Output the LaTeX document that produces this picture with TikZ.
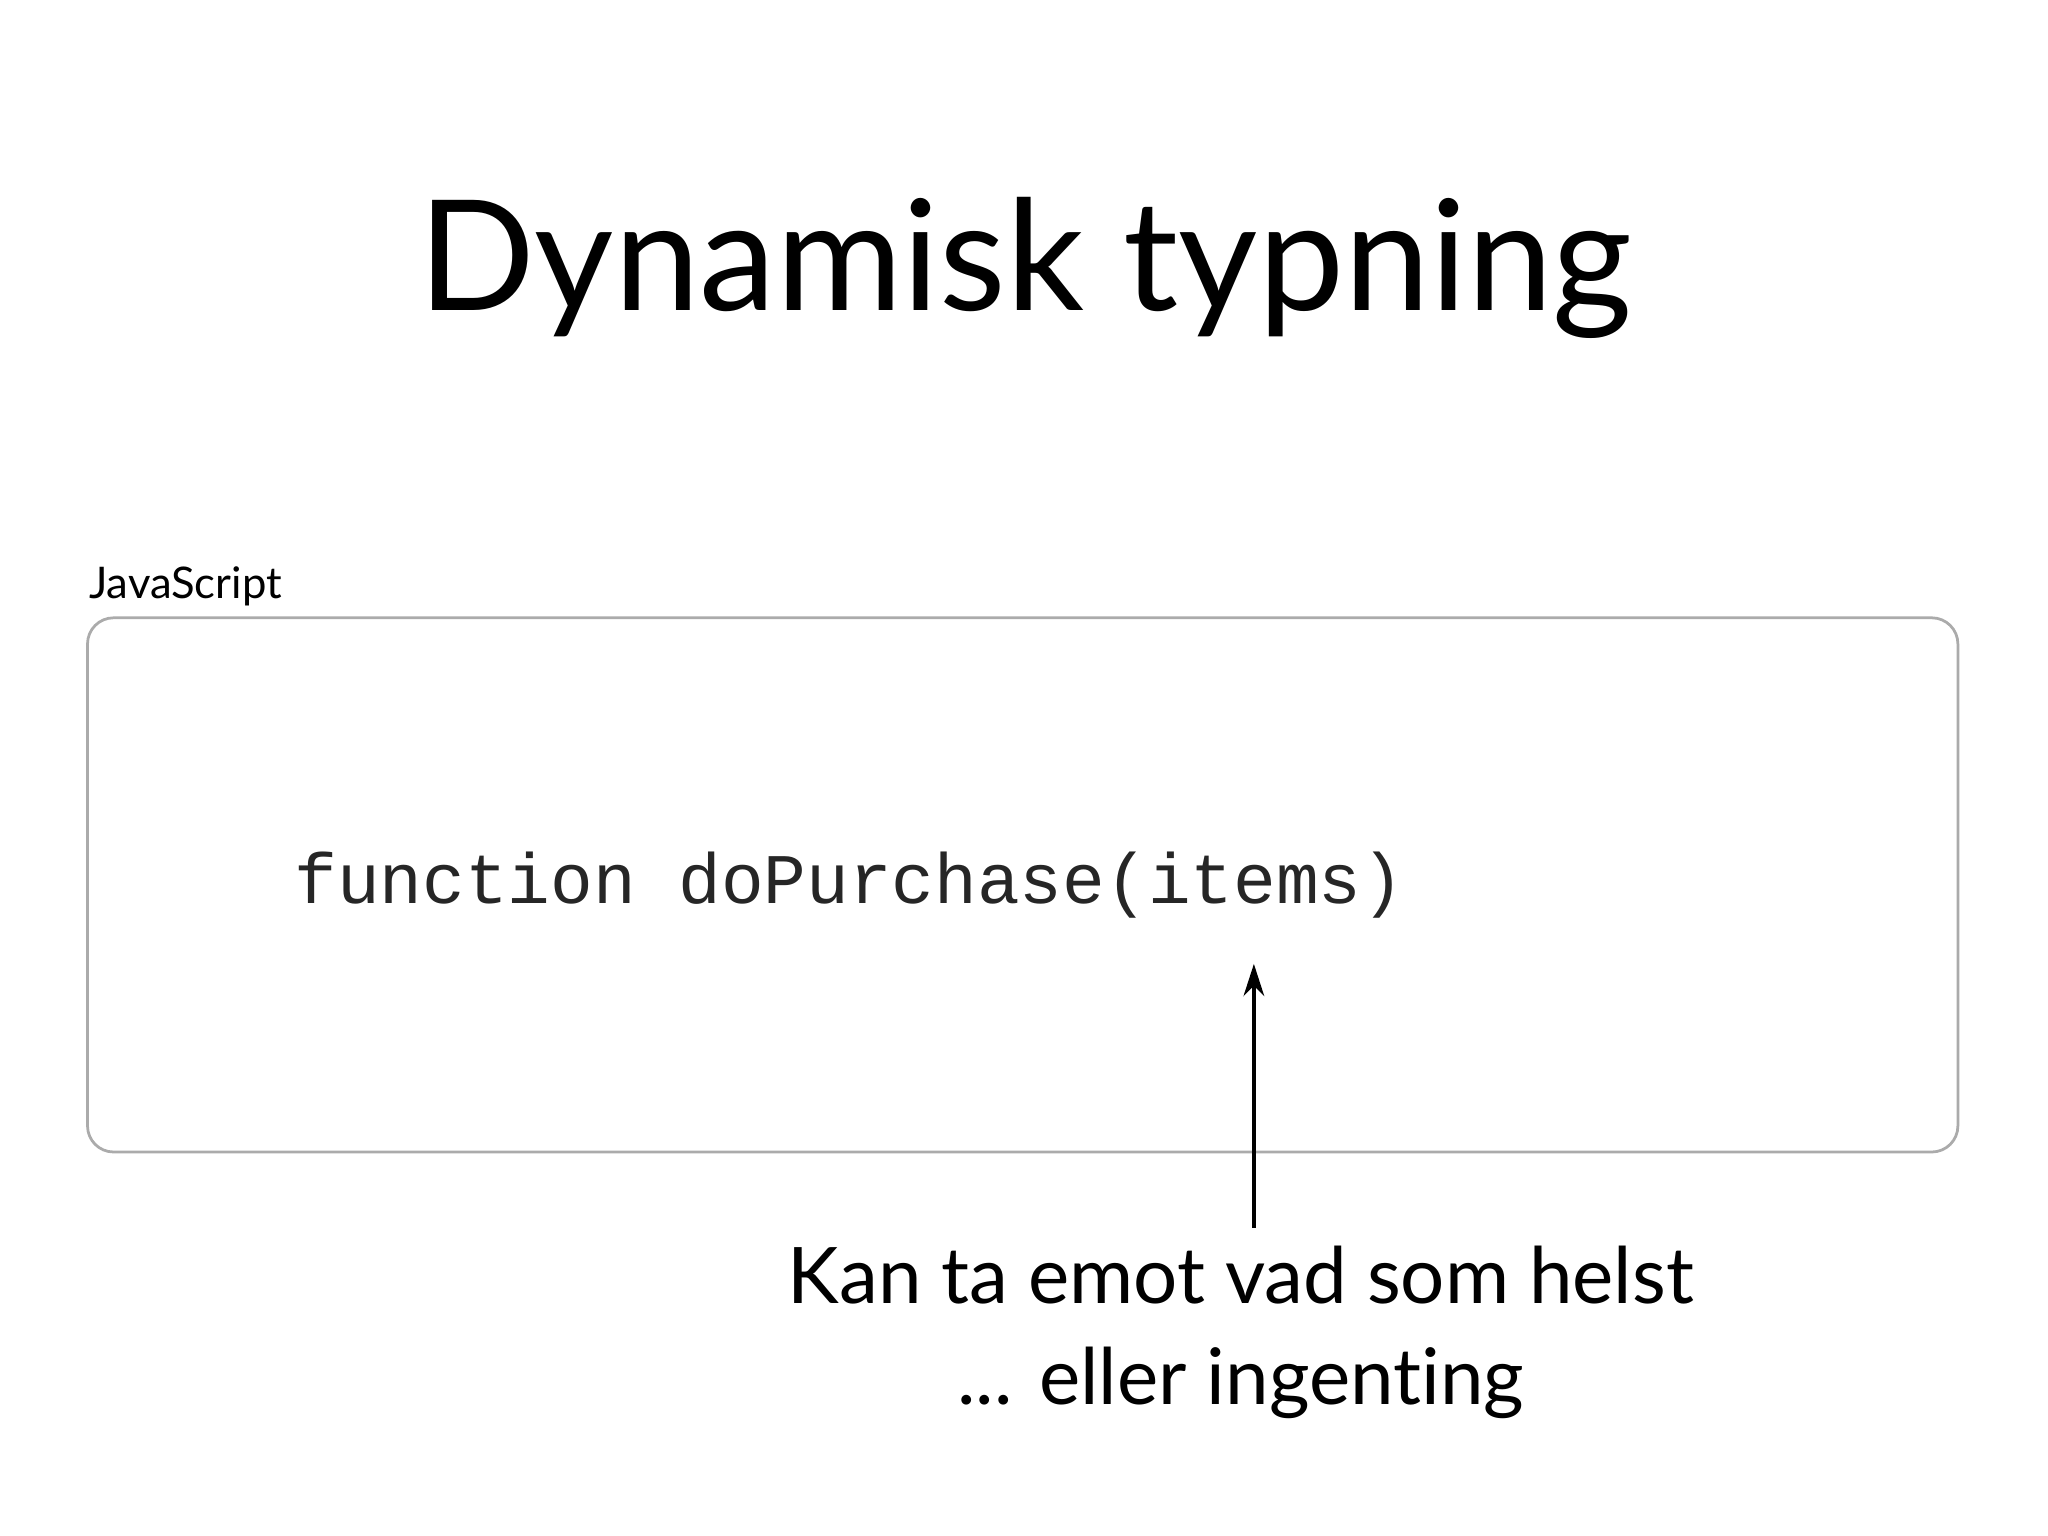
\documentclass[tikz,border=0pt]{standalone}
\usepackage{fontspec}
\setmainfont[Ligatures=NoCommon]{Lato}
\setmonofont{Liberation Mono}
\usetikzlibrary{arrows.meta}
\begin{document}
\begin{tikzpicture}[x=0.02cm,y=-0.02cm,
  lbl/.style={inner sep=0pt},
  codebox/.style={draw=black!33,line width=1.2pt,rounded corners=0.4cm}]
\useasboundingbox (0,0) rectangle (1568,1176);
\node[lbl,anchor=base,font=\fontsize{67}{80}\selectfont] (title) at (785,238) {Dynamisk typning};
\node[lbl,anchor=base west,font=\fontsize{19}{22}\selectfont] (js) at (68,458) {JavaScript};
\draw[codebox] (67,473) rectangle (1499,882);
\node[lbl,anchor=base west,font=\ttfamily\fontsize{31}{34}\selectfont,text=black!85] (code) at (225,692) {function doPurchase(items)};
\coordinate (tip) at (960,738);
\node[lbl,anchor=base,font=\fontsize{34}{40}\selectfont] (note1) at (950,998) {Kan ta emot vad som helst};
\node[lbl,anchor=base,font=\fontsize{34}{40}\selectfont] (note2) at (950,1075) {... eller ingenting};
\draw[line width=1.6pt,-{Stealth[length=14pt,width=9pt]}] (960,940) -- (tip);
\end{tikzpicture}
\end{document}
